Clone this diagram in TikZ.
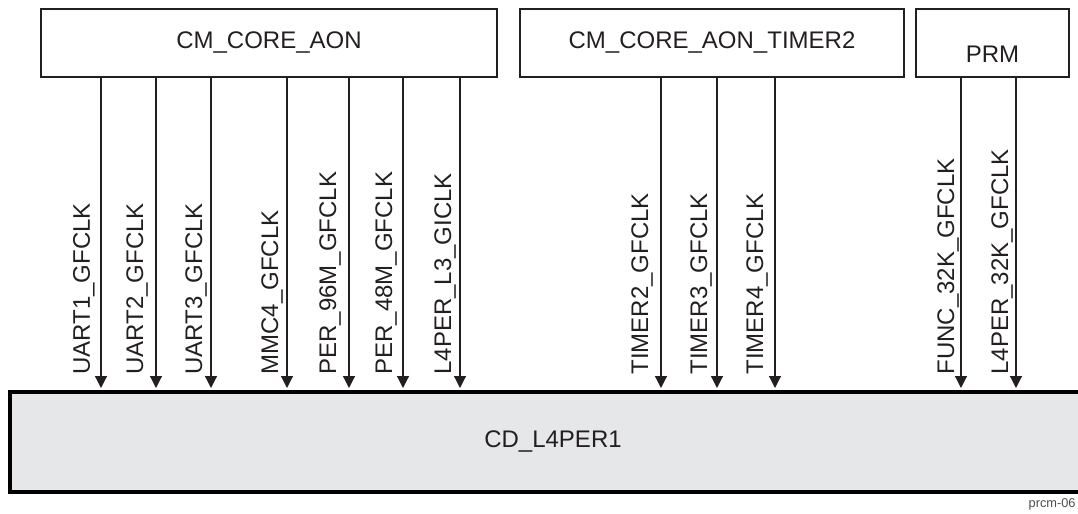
\documentclass[tikz,border=0pt]{standalone}
\usepackage{fontspec}
\setmainfont{Liberation Sans}
\usetikzlibrary{arrows.meta}

\definecolor{ink}{HTML}{231F20}
\definecolor{domaingray}{HTML}{E6E7E8}

\begin{document}
\begin{tikzpicture}[
    x=0.5pt, y=-0.5pt,
    mgrbox/.style={rectangle, draw=ink, line width=1.2pt, minimum height=34pt, inner sep=0pt, font=\fontsize{12pt}{14pt}\selectfont, text=ink},
    domainbox/.style={rectangle, draw=black, line width=2pt, fill=domaingray, minimum width=543pt, minimum height=50pt, inner sep=0pt, font=\fontsize{12pt}{14pt}\selectfont, text=ink},
    clkline/.style={-{Triangle[length=6pt, width=6pt]}, line width=0.6pt, draw=ink, shorten >=1pt},
    clkname/.style={rotate=90, anchor=base west, inner sep=0pt, font=\fontsize{12pt}{14pt}\selectfont, text=ink},
    figtag/.style={anchor=base east, inner sep=0pt, font=\fontsize{6.4pt}{7pt}\selectfont, text=ink!80}
]
    \useasboundingbox (0,0) rectangle (1078,514);

    % Clock managers on top
    \node[mgrbox, minimum width=228pt] (aon) at (269,43) {CM\_CORE\_AON};
    \node[mgrbox, minimum width=192pt] (timer) at (712,43) {CM\_CORE\_AON\_TIMER2};
    \node[mgrbox, minimum width=76.5pt, text height=19.6pt] (prm) at (992.5,43) {PRM};

    % Clock domain below
    \node[domainbox] (l4per1) at (553,442) {CD\_L4PER1};

    % Clock line positions
    \coordinate (uart1) at (101,0);
    \coordinate (uart2) at (156,0);
    \coordinate (uart3) at (211,0);
    \coordinate (mmc4) at (287,0);
    \coordinate (per96) at (349,0);
    \coordinate (per48) at (403,0);
    \coordinate (l4perl3) at (460,0);
    \coordinate (timer2) at (661,0);
    \coordinate (timer3) at (717,0);
    \coordinate (timer4) at (775,0);
    \coordinate (func32) at (961,0);
    \coordinate (l4per32) at (1016,0);

    % Clock arrows
    \draw[clkline] (aon.south -| uart1) -- (l4per1.north -| uart1);
    \draw[clkline] (aon.south -| uart2) -- (l4per1.north -| uart2);
    \draw[clkline] (aon.south -| uart3) -- (l4per1.north -| uart3);
    \draw[clkline] (aon.south -| mmc4) -- (l4per1.north -| mmc4);
    \draw[clkline] (aon.south -| per96) -- (l4per1.north -| per96);
    \draw[clkline] (aon.south -| per48) -- (l4per1.north -| per48);
    \draw[clkline] (aon.south -| l4perl3) -- (l4per1.north -| l4perl3);
    \draw[clkline] (timer.south -| timer2) -- (l4per1.north -| timer2);
    \draw[clkline] (timer.south -| timer3) -- (l4per1.north -| timer3);
    \draw[clkline] (timer.south -| timer4) -- (l4per1.north -| timer4);
    \draw[clkline] (prm.south -| func32) -- (l4per1.north -| func32);
    \draw[clkline] (prm.south -| l4per32) -- (l4per1.north -| l4per32);

    % Clock names
    \node[clkname] (l-uart1) at (90,375) {UART1\_GFCLK};
    \node[clkname] (l-uart2) at (143,375) {UART2\_GFCLK};
    \node[clkname] (l-uart3) at (202,375) {UART3\_GFCLK};
    \node[clkname] (l-mmc4) at (278,375) {MMC4\_GFCLK};
    \node[clkname] (l-per96) at (336,375) {PER\_96M\_GFCLK};
    \node[clkname] (l-per48) at (392,375) {PER\_48M\_GFCLK};
    \node[clkname] (l-l4perl3) at (451,375) {L4PER\_L3\_GICLK};
    \node[clkname] (l-timer2) at (648,375) {TIMER2\_GFCLK};
    \node[clkname] (l-timer3) at (707,375) {TIMER3\_GFCLK};
    \node[clkname] (l-timer4) at (763,375) {TIMER4\_GFCLK};
    \node[clkname] (l-func32) at (954,375) {FUNC\_32K\_GFCLK};
    \node[clkname] (l-l4per32) at (1008,375) {L4PER\_32K\_GFCLK};

    % Figure tag
    \node[figtag] (prcm) at (1076,507) {prcm-06};

\end{tikzpicture}
\end{document}
